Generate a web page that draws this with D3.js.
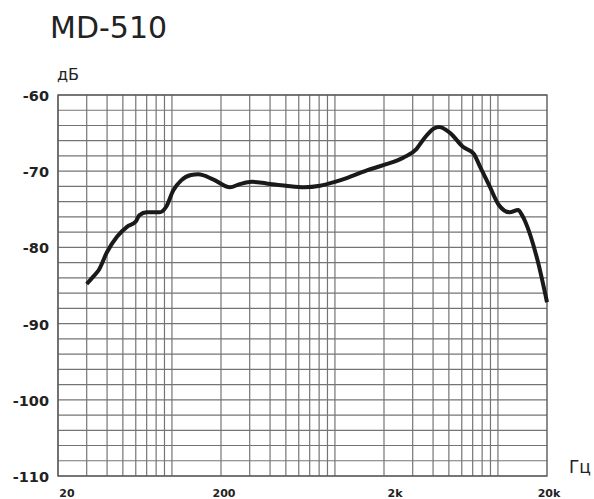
<!DOCTYPE html>
<html>
<head>
<meta charset="utf-8">
<script src="https://cdn.jsdelivr.net/npm/d3@7/dist/d3.min.js"></script>
<style>
  body { margin: 0; background: #fff; }
  svg { display: block; }
</style>
</head>
<body>
<script>
// response curve
var freqs = [30, 33, 35.5, 40, 46, 53, 60, 63, 70, 84, 92, 102, 114, 131, 145, 180, 227, 261, 309, 380,
  500, 650, 810, 1000, 1180, 1570, 1980, 2640, 3160, 3500, 4050, 4350, 5100, 6100, 7100, 7800,
  8900, 10100, 11800, 13300, 14000, 14700, 17500, 20000];
var levels = [-84.8, -83.8, -83.0, -80.6, -78.6, -77.3, -76.6, -75.8, -75.4, -75.4, -74.7, -72.5, -71.2, -70.5, -70.4, -71.1, -72.1, -71.7, -71.4, -71.6,
  -71.9, -72.1, -71.9, -71.4, -70.9, -69.9, -69.2, -68.2, -67.1, -65.8, -64.4, -64.2, -65.0, -66.8, -67.7, -69.5,
  -72.0, -74.4, -75.4, -75.1, -75.7, -76.6, -81.7, -87.2];

var yTicks = [-60, -70, -80, -90, -100, -110];
var xTicks = [20, 200, 2000, 20000];
var xTickLabels = ['20', '200', '2k', '20k'];
var title = 'MD-510';

var width = 594, height = 499;
var pL = 58, pR = 547, pT = 95, pB = 476;

var svg = d3.select('body').append('svg')
  .attr('width', width)
  .attr('height', height);

var x = d3.scaleLog().domain([20, 20000]).range([pL, pR]);
var y = d3.scaleLinear().domain([-110, -60]).range([pB, pT]);

// grid: 1-2-..-9 per decade, every 2 dB
var vLines = [];
[20, 200, 2000].forEach(function(dec) {
  var base = dec / 2;
  for (var m = 2; m <= 10; m++) vLines.push(base * m);
});
var hLines = d3.range(-110, -59, 2);

var grid = svg.append('g');
grid.selectAll('.v').data(vLines).enter().append('line')
  .attr('x1', function(d) { return x(d); })
  .attr('x2', function(d) { return x(d); })
  .attr('y1', pT).attr('y2', pB)
  .attr('stroke', '#747474').attr('stroke-width', 1.2);
grid.selectAll('.h').data(hLines).enter().append('line')
  .attr('y1', function(d) { return y(d); })
  .attr('y2', function(d) { return y(d); })
  .attr('x1', pL).attr('x2', pR)
  .attr('stroke', '#747474').attr('stroke-width', 1.2);
grid.append('rect')
  .attr('x', pL).attr('y', pT)
  .attr('width', pR - pL).attr('height', pB - pT)
  .attr('fill', 'none').attr('stroke', '#5a5a5a').attr('stroke-width', 1.4);

// y labels
svg.selectAll('.ylab').data(yTicks).enter().append('text')
  .attr('x', pL - 9)
  .attr('y', function(d) { return y(d) + 6; })
  .attr('text-anchor', 'end')
  .attr('font-family', 'DejaVu Sans')
  .attr('font-weight', 'bold')
  .attr('font-size', 14.5)
  .attr('fill', '#222')
  .text(function(d) { return d; });

// x labels, nudged like the original
var xNudge = [9, 3, 11, 2];
svg.selectAll('.xlab').data(xTicks).enter().append('text')
  .attr('x', function(d, i) { return x(d) + xNudge[i]; })
  .attr('y', 497)
  .attr('text-anchor', 'middle')
  .attr('font-family', 'DejaVu Sans')
  .attr('font-weight', 'bold')
  .attr('font-size', 11)
  .attr('fill', '#222')
  .text(function(d, i) { return xTickLabels[i]; });

svg.append('text')
  .attr('x', 50).attr('y', 38)
  .attr('font-family', 'DejaVu Sans')
  .attr('font-size', 30)
  .attr('fill', '#222')
  .text(title);

svg.append('text')
  .attr('x', 57).attr('y', 80)
  .attr('font-family', 'DejaVu Sans')
  .attr('font-size', 16)
  .attr('fill', '#222')
  .text('дБ');

svg.append('text')
  .attr('x', 569).attr('y', 473)
  .attr('font-family', 'DejaVu Sans')
  .attr('font-size', 17)
  .attr('fill', '#222')
  .text('Гц');

var line = d3.line()
  .x(function(d, i) { return x(freqs[i]); })
  .y(function(d) { return y(d); })
  .curve(d3.curveMonotoneX);

svg.append('path')
  .attr('d', line(levels))
  .attr('fill', 'none')
  .attr('stroke', '#1a1a1a')
  .attr('stroke-width', 4)
  .attr('stroke-linejoin', 'round');
</script>
</body>
</html>
